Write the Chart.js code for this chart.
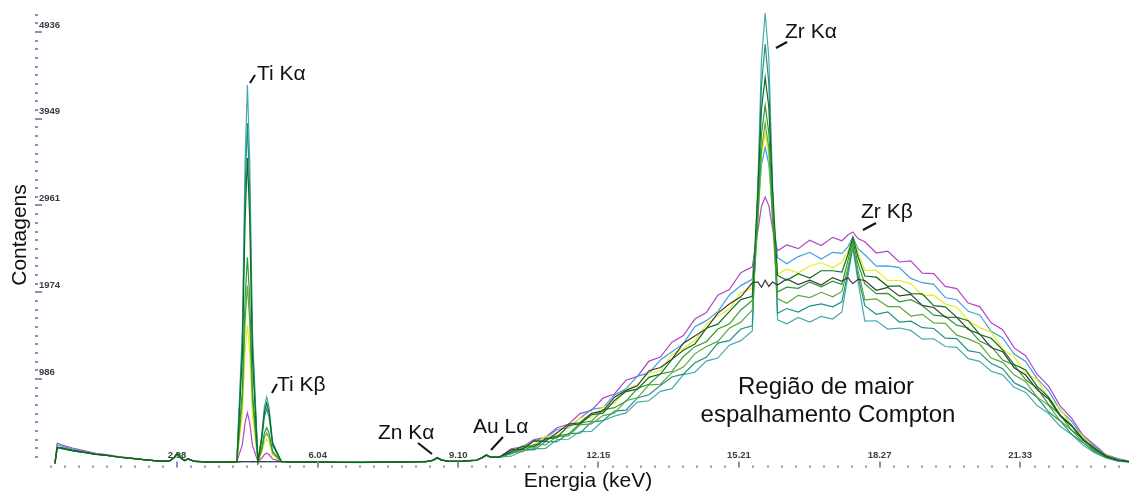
<!DOCTYPE html>
<html>
<head>
<meta charset="utf-8">
<script src="https://cdn.jsdelivr.net/npm/chart.js@4.4.1/dist/chart.umd.min.js"></script>
<style>
  html, body { margin: 0; padding: 0; background: #fff; }
  #wrap { width: 1131px; height: 492px; }
</style>
</head>
<body>
<div id="wrap"><canvas id="spectra" width="1131" height="492"></canvas></div>
<script>
// energy channels (keV) shared by every spectrum
var energy = [
  0.32, 0.37, 0.45, 0.55, 0.70, 0.85, 1.00, 1.20, 1.45, 1.70, 2.00, 2.30, 2.60, 2.82, 2.92, 2.98, 3.06, 3.14, 3.22, 3.35, 3.60, 3.95, 4.28,
  4.40, 4.46, 4.51, 4.56, 4.62, 4.74, 4.82, 4.88, 4.93, 4.98, 5.06,
  5.25, 5.60, 6.00, 6.50, 7.00, 7.50, 8.00, 8.40, 8.55, 8.64, 8.73, 8.90, 9.20, 9.50, 9.62, 9.71, 9.80, 10.00,
  10.25, 10.50, 10.75, 11.00, 11.25, 11.50, 11.75, 12.00, 12.25, 12.50, 12.75, 13.00, 13.25, 13.50, 13.75, 14.00, 14.25, 14.50, 14.75, 15.00, 15.25, 15.50,
  15.62, 15.70, 15.78, 15.86, 15.94,
  16.05, 16.25, 16.50, 16.75, 17.00, 17.25, 17.45,
  17.58, 17.69, 17.80,
  17.95, 18.20, 18.45, 18.70, 18.95, 19.20, 19.45, 19.70, 19.95, 20.20, 20.45, 20.70, 20.95, 21.20, 21.45, 21.70, 21.95, 22.20, 22.45, 22.70, 22.95, 23.20, 23.45, 23.70
];

// counts per sample
var magentaCounts = [
  25, 255, 240, 222, 200, 182, 165, 140, 124, 102, 84, 66, 52, 54, 92, 135, 86, 58, 74, 50, 42, 40, 44,
  239, 489, 600, 489, 230, 45, 83, 126, 140, 126, 74,
  46, 41, 43, 39, 37, 41, 43, 47, 60, 88, 64, 48, 53, 64, 90, 118, 96, 98,
  190, 214, 296, 322, 431, 470, 592, 628, 768, 815, 972, 1015, 1190, 1236, 1405, 1480, 1668, 1742, 1940, 2005, 2196, 2262,
  2670, 2950, 3057, 2960, 2700,
  2445, 2512, 2470, 2566, 2505, 2598, 2560,
  2625, 2660, 2585,
  2548, 2420, 2440, 2318, 2330, 2190, 2185, 2040, 2015, 1850, 1810, 1625, 1548, 1340, 1250, 1040, 905, 680, 540, 345, 235, 125, 80, 50
];
var lightBlueCounts = [
  25, 238, 226, 208, 188, 170, 156, 136, 120, 100, 83, 65, 51, 54, 90, 132, 84, 57, 72, 49, 41, 40, 43,
  44, 46, 45, 44, 43, 44, 45, 44, 46, 45, 44,
  45, 40, 42, 38, 36, 40, 42, 45, 58, 84, 62, 47, 51, 60, 88, 115, 94, 96,
  179, 190, 288, 309, 411, 431, 540, 640, 661, 803, 874, 1019, 1052, 1203, 1295, 1388, 1581, 1650, 1753, 1940, 2049, 2121,
  2860, 3420, 3625, 3430, 2900,
  2367, 2297, 2379, 2428, 2351, 2428, 2415,
  2490, 2600, 2470,
  2400, 2271, 2274, 2254, 2131, 2082, 2063, 1913, 1888, 1756, 1715, 1528, 1454, 1270, 1186, 991, 850, 634, 503, 328, 215, 119, 70, 50
];
var yellowCounts = [
  25, 212, 205, 192, 175, 162, 150, 131, 118, 99, 82, 66, 52, 55, 94, 138, 87, 58, 76, 50, 42, 40, 44,
  589, 1289, 1600, 1289, 575, 45, 147, 262, 300, 262, 122,
  46, 40, 44, 38, 36, 40, 42, 46, 61, 90, 65, 48, 52, 62, 91, 120, 97, 99,
  148, 223, 234, 335, 340, 442, 542, 548, 669, 711, 867, 922, 1054, 1080, 1266, 1333, 1424, 1611, 1702, 1783, 1970, 2017,
  2860, 3530, 3784, 3540, 2880,
  2179, 2239, 2194, 2272, 2309, 2255, 2315,
  2440, 2590, 2420,
  2224, 2223, 2108, 2107, 2072, 1936, 1940, 1839, 1803, 1652, 1571, 1520, 1323, 1241, 1054, 978, 766, 649, 452, 335, 193, 122, 67, 46
];
var blackCounts = [
  25, 208, 202, 190, 174, 160, 149, 130, 117, 98, 81, 65, 51, 54, 93, 136, 86, 57, 75, 49, 41, 39, 43,
  45, 44, 46, 44, 45, 44, 45, 46, 44, 45, 44,
  45, 39, 43, 37, 36, 39, 41, 45, 59, 87, 63, 47, 51, 61, 89, 117, 95, 97,
  180, 186, 282, 278, 375, 472, 488, 595, 622, 779, 856, 908, 1080, 1117, 1210, 1393, 1476, 1559, 1736, 1839, 1922, 2080,
  2090, 2030, 2110, 2040, 2090,
  2055, 2125, 2060, 2110, 2055, 2140, 2098,
  2140, 2070, 2120,
  2107, 1996, 2029, 1931, 1949, 1823, 1800, 1690, 1689, 1549, 1499, 1345, 1297, 1114, 1031, 864, 758, 567, 451, 289, 195, 105, 62, 45
];
var darkGreenCounts = [
  25, 210, 204, 190, 173, 161, 148, 131, 118, 98, 82, 66, 52, 55, 96, 142, 89, 58, 78, 50, 42, 40, 44,
  1254, 2809, 3500, 2809, 1230, 45, 312, 613, 713, 613, 245,
  46, 40, 44, 38, 36, 40, 42, 46, 62, 93, 66, 48, 52, 62, 93, 123, 98, 100,
  158, 222, 221, 305, 318, 457, 475, 579, 597, 741, 843, 871, 1004, 1042, 1210, 1313, 1385, 1563, 1610, 1753, 1890, 1928,
  3110, 4060, 4420, 4080, 3150,
  2164, 2109, 2184, 2136, 2218, 2218, 2202,
  2400, 2600, 2380,
  2158, 2145, 2041, 2046, 1958, 1954, 1820, 1807, 1689, 1650, 1493, 1450, 1317, 1150, 1088, 901, 779, 578, 461, 300, 197, 114, 65, 45
];
var greenCounts = [
  25, 205, 200, 188, 172, 160, 148, 130, 118, 98, 82, 66, 52, 55, 95, 140, 88, 58, 78, 50, 42, 40, 44,
  859, 1906, 2371, 1906, 845, 45, 199, 372, 430, 372, 161,
  46, 40, 44, 38, 36, 40, 42, 46, 62, 92, 66, 48, 52, 62, 92, 122, 98, 100,
  139, 201, 202, 303, 338, 358, 482, 507, 635, 659, 731, 879, 926, 1044, 1071, 1242, 1354, 1410, 1555, 1611, 1772, 1879,
  2910, 3770, 4100, 3790, 2930,
  1976, 2031, 2018, 2089, 2036, 2099, 2063,
  2330, 2560, 2300,
  2067, 1957, 1960, 1864, 1888, 1823, 1712, 1698, 1599, 1566, 1418, 1357, 1201, 1146, 976, 883, 695, 578, 405, 302, 176, 107, 61, 44
];
var limeGreenCounts = [
  25, 203, 198, 186, 171, 158, 147, 129, 117, 97, 81, 65, 51, 54, 92, 137, 86, 57, 76, 49, 41, 40, 43,
  747, 1649, 2050, 1649, 735, 44, 175, 321, 370, 321, 143,
  45, 40, 43, 38, 36, 39, 42, 45, 61, 90, 65, 47, 51, 61, 90, 120, 96, 98,
  150, 159, 243, 236, 333, 339, 464, 474, 569, 597, 739, 772, 919, 926, 1058, 1122, 1272, 1356, 1414, 1564, 1633, 1770,
  2750, 3590, 3900, 3610, 2780,
  1902, 1847, 1938, 1913, 1973, 1921, 1983,
  2250, 2520, 2220,
  1886, 1899, 1810, 1811, 1703, 1722, 1624, 1619, 1485, 1442, 1384, 1224, 1175, 1033, 955, 779, 686, 513, 404, 264, 170, 105, 57, 43
];
var seaGreenCounts = [
  25, 200, 196, 185, 170, 157, 146, 128, 116, 97, 81, 65, 51, 54, 93, 138, 87, 57, 77, 49, 41, 39, 43,
  1394, 3129, 3900, 3129, 1370, 45, 287, 559, 650, 559, 227,
  45, 40, 43, 38, 36, 40, 41, 45, 61, 91, 65, 47, 51, 61, 91, 121, 97, 99,
  136, 183, 179, 274, 273, 364, 370, 497, 512, 620, 632, 770, 806, 913, 1009, 1041, 1170, 1232, 1394, 1423, 1555, 1591,
  3080, 4330, 4800, 4350, 3110,
  1733, 1788, 1747, 1816, 1841, 1808, 1864,
  2200, 2500, 2160,
  1820, 1722, 1750, 1634, 1644, 1570, 1561, 1450, 1446, 1308, 1285, 1161, 1104, 944, 879, 776, 612, 508, 358, 261, 158, 94, 55, 42
];
var tealCounts = [
  25, 198, 194, 183, 168, 156, 145, 127, 115, 96, 80, 64, 50, 53, 92, 136, 86, 56, 76, 48, 40, 39, 43,
  1545, 3474, 4331, 3474, 1520, 44, 340, 671, 782, 671, 266,
  45, 39, 43, 37, 35, 39, 41, 45, 60, 90, 64, 47, 50, 60, 90, 120, 96, 97,
  107, 167, 190, 197, 297, 300, 387, 390, 510, 563, 600, 723, 738, 845, 876, 1036, 1063, 1189, 1224, 1371, 1422, 1532,
  3190, 4620, 5150, 4640, 3220,
  1659, 1614, 1687, 1635, 1699, 1669, 1749,
  2150, 2480, 2100,
  1644, 1649, 1554, 1566, 1539, 1439, 1444, 1356, 1346, 1218, 1186, 1074, 1033, 891, 833, 683, 593, 448, 353, 233, 147, 87, 50, 40
];

// axis labels
var energyTicks = [2.98, 6.04, 9.10, 12.15, 15.21, 18.27, 21.33];
var energyTickLabels = ['2.98', '6.04', '9.10', '12.15', '15.21', '18.27', '21.33'];
var countTicks = [986, 1974, 2961, 3949, 4936];
var countTickLabels = ['986', '1974', '2961', '3949', '4936'];

var FONT = "'Liberation Sans', Arial, sans-serif";
var canvas = document.getElementById('spectra');

// first entry ends up on top
var spectra = [
  { counts: darkGreenCounts, color: '#0d6d1f' },
  { counts: blackCounts, color: '#3a3a3a' },
  { counts: greenCounts, color: '#2f9b2f' },
  { counts: limeGreenCounts, color: '#5aa83c' },
  { counts: yellowCounts, color: '#ecec1c' },
  { counts: seaGreenCounts, color: '#22907f' },
  { counts: tealCounts, color: '#45abae' },
  { counts: lightBlueCounts, color: '#3d9fe2' },
  { counts: magentaCounts, color: '#b047c8' }
];

function minorTicks(first, step, lo, hi, majors) {
    var list = majors.map(v => ({ value: v }));
    var start = first - Math.floor((first - lo) / step) * step;
    for (var v = start; v <= hi; v += step) {
        var near = majors.some(m => Math.abs(m - v) < step / 2);
        if (!near) list.push({ value: v });
    }
    list.sort((a, b) => a.value - b.value);
    return list;
}

function isMajor(list, v) {
    return list.some(m => Math.abs(m - v) < 1e-6);
}

// small dotted tick marks like the acquisition software draws
var axisMarks = {
    id: 'axisMarks',
    afterDatasetsDraw(chart) {
        var ctx = chart.ctx, xs = chart.scales.x, ys = chart.scales.y, area = chart.chartArea;
        ctx.save();
        ctx.fillStyle = '#7f95c0';
        xs.ticks.forEach(t => {
            var px = Math.round(xs.getPixelForValue(t.value));
            if (isMajor(energyTicks, t.value)) ctx.fillRect(px - 1, area.bottom - 4, 2, 6);
            else ctx.fillRect(px - 1, area.bottom, 2, 2);
        });
        ys.ticks.forEach(t => {
            var py = Math.round(ys.getPixelForValue(t.value));
            if (isMajor(countTicks, t.value)) ctx.fillRect(area.left - 2, py - 1, 7, 2);
            else ctx.fillRect(area.left - 2, py - 1, 3, 2);
        });
        ctx.restore();
    }
};

var peakNotes = [
    { text: 'Ti K\u03b1', x: 257, y: 74, line: [250, 83, 255, 75] },
    { text: 'Ti K\u03b2', x: 277, y: 385, line: [272, 393, 277, 384] },
    { text: 'Zn K\u03b1', x: 378, y: 433, line: [418, 443, 432, 454] },
    { text: 'Au L\u03b1', x: 473, y: 427, line: [503, 437, 491, 450] },
    { text: 'Zr K\u03b1', x: 785, y: 32, line: [776, 48, 787, 42] },
    { text: 'Zr K\u03b2', x: 861, y: 212, line: [863, 230, 876, 223] }
];

var textLayer = {
    id: 'textLayer',
    afterDraw(chart) {
        var ctx = chart.ctx;
        ctx.save();
        ctx.fillStyle = '#111';
        ctx.strokeStyle = '#111';
        ctx.lineWidth = 2;
        ctx.textBaseline = 'middle';
        ctx.textAlign = 'left';
        ctx.font = '21px ' + FONT;
        peakNotes.forEach(n => {
            ctx.fillText(n.text, n.x, n.y);
            ctx.beginPath();
            ctx.moveTo(n.line[0], n.line[1]);
            ctx.lineTo(n.line[2], n.line[3]);
            ctx.stroke();
        });

        ctx.textAlign = 'center';
        ctx.font = '24px ' + FONT;
        ctx.fillText('Região de maior', 826, 387);
        ctx.fillText('espalhamento Compton', 828, 415);

        ctx.font = '21px ' + FONT;
        ctx.fillText('Energia (keV)', 588, 481);
        ctx.translate(20, 235);
        ctx.rotate(-Math.PI / 2);
        ctx.fillText('Contagens', 0, 0);
        ctx.restore();
    }
};

var myChart = new Chart(canvas, {
    type: 'line',
    data: {
        datasets: spectra.map(s => ({
            data: s.counts.map((c, i) => ({ x: energy[i], y: c })),
            borderColor: s.color,
            borderWidth: 1.2,
            pointRadius: 0,
            tension: 0,
            fill: false
        }))
    },
    options: {
        responsive: false,
        animation: false,
        devicePixelRatio: 1,
        layout: { padding: { left: 37, right: 2, top: 8.8, bottom: 26.4 } },
        plugins: { legend: { display: false }, tooltip: { enabled: false } },
        scales: {
            x: {
                type: 'linear',
                min: -0.07,
                max: 23.70,
                afterBuildTicks: axis => { axis.ticks = minorTicks(2.98, 0.306, 0.2, 23.6, energyTicks); },
                afterFit: axis => { axis.height = 0; },
                grid: { display: false, drawTicks: false },
                border: { display: false },
                ticks: {
                    autoSkip: false,
                    mirror: true,
                    padding: 5,
                    maxRotation: 0,
                    color: '#3c3c3c',
                    font: { family: FONT, size: 9.5, weight: 'bold' },
                    callback: v => {
                        var i = energyTicks.findIndex(m => Math.abs(m - v) < 1e-6);
                        return i < 0 ? '' : energyTickLabels[i];
                    }
                }
            },
            y: {
                type: 'linear',
                min: 0,
                max: 5200,
                afterBuildTicks: axis => { axis.ticks = minorTicks(986, 98.72, 90, 5140, countTicks); },
                afterFit: axis => { axis.width = 0; },
                grid: { display: false, drawTicks: false },
                border: { display: false },
                ticks: {
                    autoSkip: false,
                    mirror: true,
                    padding: 2,
                    labelOffset: -7,
                    color: '#3c3c3c',
                    font: { family: FONT, size: 9.5, weight: 'bold' },
                    callback: v => {
                        var i = countTicks.findIndex(m => Math.abs(m - v) < 1e-6);
                        return i < 0 ? '' : countTickLabels[i];
                    }
                }
            }
        }
    },
    plugins: [axisMarks, textLayer]
});
</script>
</body>
</html>
